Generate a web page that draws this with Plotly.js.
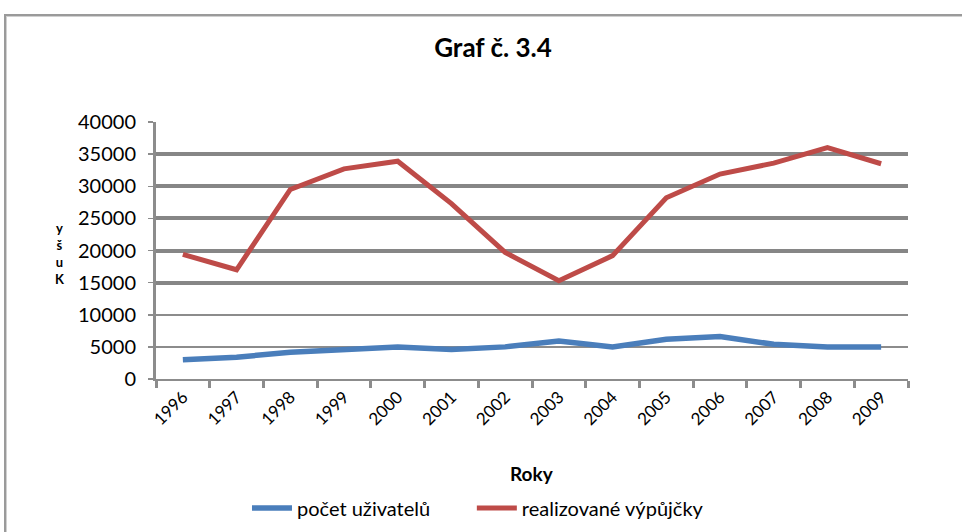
<!DOCTYPE html>
<html>
<head>
<meta charset="utf-8">
<script src="https://cdn.plot.ly/plotly-3.0.1.min.js"></script>
<style>
html,body{margin:0;padding:0;background:#fff;overflow:hidden;}
#frame{position:absolute;left:4px;top:14px;width:980px;height:540px;border-left:2px solid #9a9a9a;border-top:2px solid #9a9a9a;box-shadow:inset 1px 1px 0 #d0d0d0;}
#chart{position:absolute;left:0;top:0;width:962px;height:532px;}
</style>
</head>
<body>
<div id="frame"></div>
<div id="chart"></div>
<script>
const years = ['1996','1997','1998','1999','2000','2001','2002','2003','2004','2005','2006','2007','2008','2009'];
const uzivatele = [3000,3400,4150,4600,5000,4600,5000,5900,5000,6200,6600,5400,5000,5000];
const vypujcky = [19400,17000,29500,32700,33900,27300,19700,15300,19200,28200,31900,33600,36000,33500];
const yTicks = [0,5000,10000,15000,20000,25000,30000,35000,40000];
const yTicksBold = [15000,20000,25000,30000,35000];
const yTitleLetters = ['y','š','u','K'];

const font = 'Lato, "Open Sans", "DejaVu Sans", sans-serif';

const traces = [
  {x: years, y: uzivatele, type:'scatter', mode:'lines', name:'počet uživatelů', legend:'legend',
   line:{color:'#4a7ebb', width:5.5}},
  {x: years, y: vypujcky, type:'scatter', mode:'lines', name:'realizované výpůjčky', legend:'legend2',
   line:{color:'#be4b48', width:5}}
];

const annotations = [
  {text:'<b>Roky</b>', xref:'paper', yref:'paper', x:0.5, y:-0.366, xanchor:'center', yanchor:'middle',
   showarrow:false, font:{family:font, size:19, color:'#000'}},
  {text:'<b>' + yTitleLetters.join('<br>') + '</b>', xref:'paper', yref:'paper', x:-0.127, y:0.49,
   xanchor:'center', yanchor:'middle', showarrow:false, font:{family:font, size:13, color:'#000'}}
];

const legendBase = {orientation:'h', xanchor:'left', y:-0.502, yanchor:'middle',
  font:{family:font, size:20, color:'#000'}, itemwidth:40, bgcolor:'rgba(0,0,0,0)'};

const layout = {
  width:962, height:532,
  margin:{l:156, r:54, t:122, b:153, autoexpand:false},
  paper_bgcolor:'rgba(0,0,0,0)', plot_bgcolor:'rgba(0,0,0,0)',
  title:{text:'<b>Graf č. 3.4</b>', x:0.5125, xanchor:'center', y:0.91, yanchor:'middle',
    font:{family:font, size:26, color:'#000'}},
  showlegend:true,
  legend:Object.assign({}, legendBase, {x:0.121}),
  legend2:Object.assign({}, legendBase, {x:0.420}),
  xaxis:{type:'category', tickson:'boundaries', ticks:'outside', ticklen:7, tickwidth:3, tickcolor:'#8c8c8c',
    showline:true, linecolor:'#8c8c8c', linewidth:1.5, showgrid:false, zeroline:false, automargin:false,
    tickangle:-45, tickfont:{family:font, size:17, color:'#000'}, range:[-0.5,13.5]},
  yaxis:{range:[0,40000], tickmode:'array', tickvals:yTicks, ticktext:yTicks.map(String), automargin:false,
    ticks:'outside', ticklen:5, tickwidth:1.5, tickcolor:'#8c8c8c', ticklabelstandoff:8,
    showline:true, linecolor:'#8c8c8c', linewidth:3, gridcolor:'#8c8c8c', gridwidth:1.5, zeroline:false,
    tickfont:{family:font, size:20, color:'#000'}},
  yaxis2:{overlaying:'y', matches:'y', range:[0,40000], tickmode:'array', tickvals:yTicksBold, automargin:false,
    showticklabels:false, ticks:'', showline:false, gridcolor:'#868686', gridwidth:4, zeroline:false},
  annotations: annotations
};

traces.push({x: years, y: vypujcky, yaxis:'y2', type:'scatter', mode:'lines', showlegend:false,
  hoverinfo:'skip', line:{width:0, color:'rgba(0,0,0,0)'}});

Plotly.newPlot('chart', [traces[2], traces[0], traces[1]], layout, {displayModeBar:false, staticPlot:true});
</script>
</body>
</html>
